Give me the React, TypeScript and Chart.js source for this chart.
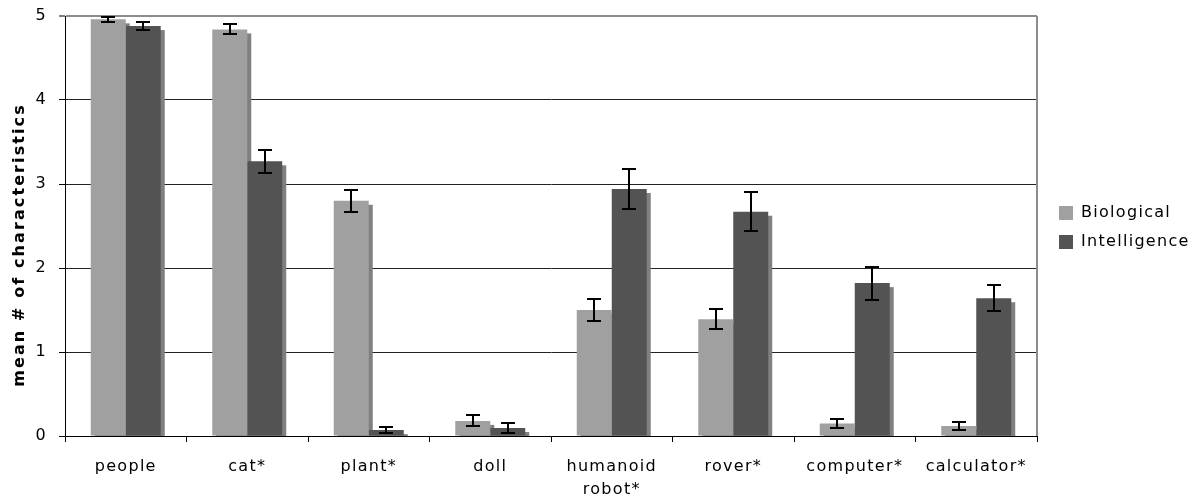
import React, { useEffect, useRef } from 'react';
import { Chart, registerables } from 'chart.js';

Chart.register(...registerables);

const categories: (string | string[])[] = ['people', 'cat*', 'plant*', 'doll', ['humanoid', 'robot*'], 'rover*', 'computer*', 'calculator*'];
const seriesNames = ['Biological', 'Intelligence'];
const biological = [4.96, 4.84, 2.8, 0.18, 1.5, 1.39, 0.15, 0.12];
const biologicalErr = [0.03, 0.06, 0.13, 0.065, 0.13, 0.117, 0.056, 0.05];
const intelligence = [4.88, 3.27, 0.07, 0.095, 2.94, 2.67, 1.82, 1.64];
const intelligenceErr = [0.045, 0.135, 0.04, 0.06, 0.235, 0.235, 0.197, 0.157];
const yMin = 0;
const yMax = 5;
const yStep = 1;
const yTitle = 'mean # of characteristics';

const colors = ['#a0a0a0', '#535353'];
const shadowColor = '#808080';
const errors = [biologicalErr, intelligenceErr];

const FONT = '"DejaVu Sans", Verdana, sans-serif';
const LETTER = '1.3px';
const W = 1199;
const H = 501;
const LEGEND_W = 162;

const customPlugin = {
  id: 'custom',
  beforeUpdate(chart: any) {
    chart.ctx.letterSpacing = LETTER;
  },
  beforeLayout(chart: any) {
    chart.ctx.letterSpacing = LETTER;
    const lg = chart.legend;
    if (lg && !lg.__fixed) {
      const orig = lg.fit.bind(lg);
      lg.fit = function () {
        orig();
        this.width = LEGEND_W;
      };
      lg.__fixed = true;
    }
  },
  afterLayout(chart: any) {
    const lg = chart.legend;
    if (lg) {
      const w = lg.width;
      lg.left = chart.chartArea.right + 9;
      lg.right = lg.left + w;
      lg.top = 192;
      lg.bottom = chart.height;
    }
  },
  beforeDraw(chart: any) {
    chart.ctx.letterSpacing = LETTER;
  },
  beforeDatasetsDraw(chart: any) {
    const ctx = chart.ctx;
    const area = chart.chartArea;
    ctx.save();
    ctx.beginPath();
    ctx.rect(area.left, area.top, area.right - area.left, area.bottom - area.top);
    ctx.clip();
    ctx.fillStyle = shadowColor;
    chart.data.datasets.forEach((_: any, di: number) => {
      const meta = chart.getDatasetMeta(di);
      meta.data.forEach((el: any) => {
        const { x, y, base, width } = el.getProps(['x', 'y', 'base', 'width'], true);
        ctx.fillRect(x - width / 2 + 4, y + 4, width, base - y);
      });
    });
    ctx.restore();
  },
  afterDatasetsDraw(chart: any) {
    const ctx = chart.ctx;
    const ys = chart.scales.y;
    ctx.save();
    ctx.strokeStyle = '#000';
    ctx.lineWidth = 2;
    chart.data.datasets.forEach((ds: any, di: number) => {
      const meta = chart.getDatasetMeta(di);
      meta.data.forEach((el: any, i: number) => {
        const v = ds.data[i];
        const e = errors[di][i];
        const x = Math.round(el.x);
        const yt = Math.round(ys.getPixelForValue(v + e));
        const yb = Math.round(ys.getPixelForValue(v - e));
        ctx.beginPath();
        ctx.moveTo(x, yt);
        ctx.lineTo(x, yb);
        ctx.moveTo(x - 7, yt);
        ctx.lineTo(x + 7, yt);
        ctx.moveTo(x - 7, yb);
        ctx.lineTo(x + 7, yb);
        ctx.stroke();
      });
    });
    ctx.restore();
  },
  afterDraw(chart: any) {
    const ctx = chart.ctx;
    const area = chart.chartArea;
    ctx.save();
    ctx.strokeStyle = '#8c8c8c';
    ctx.lineWidth = 2;
    ctx.beginPath();
    ctx.moveTo(Math.round(area.right), area.top);
    ctx.lineTo(Math.round(area.right), area.bottom);
    ctx.stroke();
    ctx.restore();

    ctx.save();
    ctx.font = 'bold 16px ' + FONT;
    ctx.letterSpacing = '2.1px';
    ctx.fillStyle = '#000';
    ctx.translate(20, 245);
    ctx.rotate(-Math.PI / 2);
    ctx.textAlign = 'center';
    ctx.textBaseline = 'middle';
    ctx.fillText(yTitle, 0, 0);
    ctx.restore();
  },
};

export default function App() {
  const ref = useRef<HTMLCanvasElement>(null);
  useEffect(() => {
    Chart.defaults.font.family = FONT;
    Chart.defaults.font.size = 16;
    Chart.defaults.color = '#000';
    const chart = new Chart(ref.current as HTMLCanvasElement, {
      type: 'bar',
      data: {
        labels: categories as any,
        datasets: [
          {
            label: seriesNames[0],
            data: biological,
            backgroundColor: colors[0],
            borderWidth: 0,
            categoryPercentage: 0.576,
            barPercentage: 1,
          },
          {
            label: seriesNames[1],
            data: intelligence,
            backgroundColor: colors[1],
            borderWidth: 0,
            categoryPercentage: 0.576,
            barPercentage: 1,
          },
        ],
      },
      options: {
        responsive: false,
        animation: false,
        layout: { padding: { top: 16, left: 0, right: 0, bottom: 0 } },
        plugins: {
          legend: {
            position: 'right',
            align: 'start',
            labels: {
              boxWidth: 14,
              boxHeight: 14,
              padding: 13,
              color: '#000',
              font: { size: 16, family: FONT },
            },
          },
          tooltip: { enabled: false },
        },
        scales: {
          x: {
            afterFit: (s: any) => {
              s.height = 65;
              s.paddingLeft = 0;
              s.paddingRight = 0;
            },
            grid: {
              offset: true,
              drawOnChartArea: false,
              drawTicks: true,
              tickLength: 6,
              color: '#000',
              lineWidth: 1,
            },
            border: { color: '#000', width: 1 },
            ticks: {
              color: '#000',
              padding: 13,
              autoSkip: false,
              maxRotation: 0,
              font: { size: 16, lineHeight: 1.47, family: FONT },
            },
          },
          y: {
            min: yMin,
            max: yMax,
            afterFit: (s: any) => {
              s.width = 65;
              s.paddingTop = 0;
              s.paddingBottom = 0;
            },
            grid: {
              color: (c: any) => (c.tick && c.tick.value === yMax ? '#8c8c8c' : '#222'),
              lineWidth: (c: any) => (c.tick && c.tick.value === yMax ? 2 : 1),
              tickColor: '#000',
              tickWidth: 1,
              tickLength: 6,
              drawTicks: true,
            },
            border: { color: '#000', width: 1 },
            ticks: {
              stepSize: yStep,
              padding: 12,
              color: '#000',
              font: { size: 16, family: FONT },
            },
          },
        },
      },
      plugins: [customPlugin],
    } as any);
    return () => chart.destroy();
  }, []);
  return (
    <div style={{ position: 'absolute', left: 0, top: 0, width: W, height: H }}>
      <canvas ref={ref} width={W} height={H} style={{ display: 'block' }} />
    </div>
  );
}
